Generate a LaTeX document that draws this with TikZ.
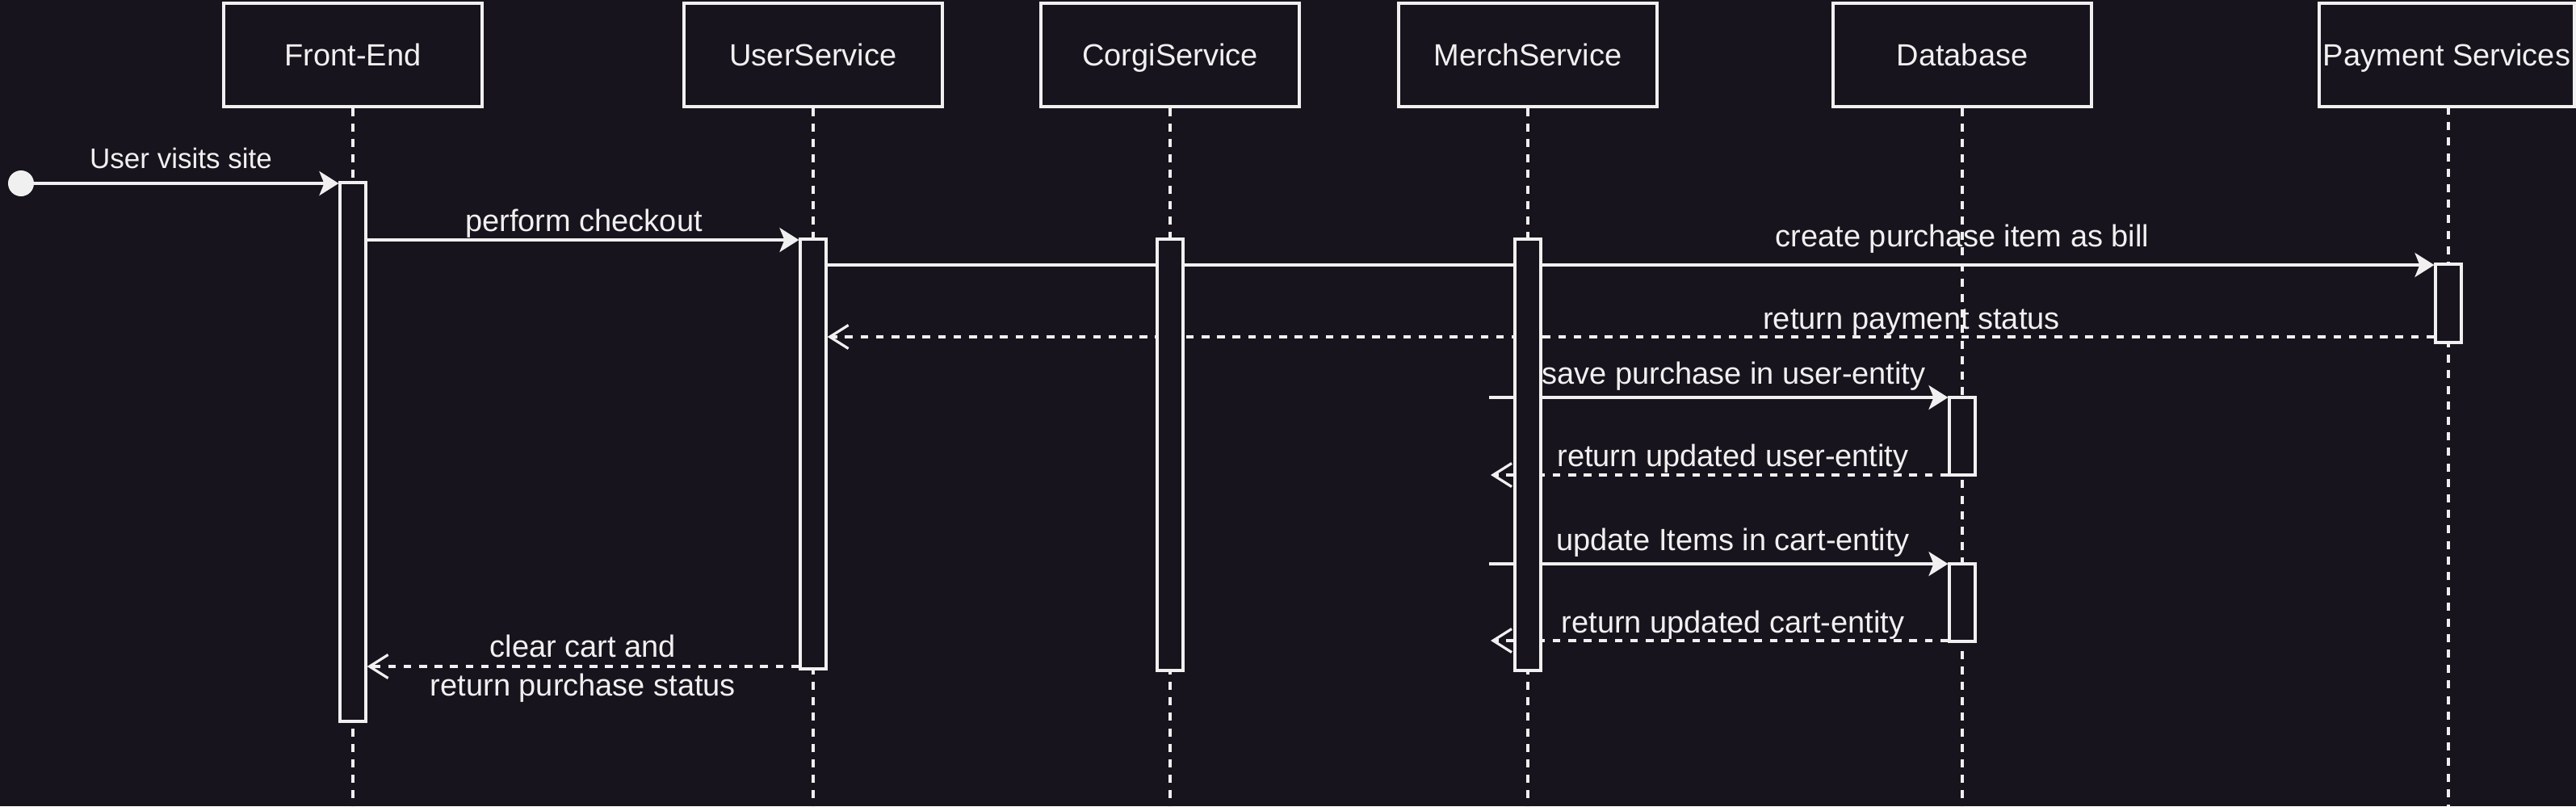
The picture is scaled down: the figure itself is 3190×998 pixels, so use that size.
\documentclass[tikz,border=0pt]{standalone}
\usepackage{fontspec}
\setmainfont{Liberation Sans}
\usetikzlibrary{arrows.meta}
\definecolor{bgc}{HTML}{18141D}
\definecolor{fgc}{HTML}{F0F0F0}
\pgfdeclarelayer{bgl}
\pgfdeclarelayer{back}
\pgfsetlayers{bgl,back,main}
\tikzset{
  every node/.style={font=\fontsize{19pt}{24pt}\selectfont, text=fgc},
  actor/.style={draw=fgc, line width=1.6pt, fill=bgc, minimum width=160pt, minimum height=64pt, inner sep=0pt, text height=13.6pt, text depth=0pt},
  lifeline/.style={draw=fgc, line width=1.6pt, dash pattern=on 5pt off 4.6pt},
  actbar/.style={draw=fgc, line width=1.6pt, fill=bgc, minimum width=16pt, inner sep=0pt},
  msg/.style={draw=fgc, line width=1.6pt, -{Stealth[length=12pt,width=15pt,inset=3pt]}},
  reply/.style={draw=fgc, line width=1.6pt, dash pattern=on 4.8pt off 4.8pt, -{Straight Barb[length=11.5pt,width=14.5pt]}},
  lbl/.style={inner sep=0pt, text height=13.6pt, text depth=0pt},
  startdot/.style={circle, fill=fgc, draw=none, minimum size=16pt, inner sep=0pt},
}
\begin{document}
\begin{tikzpicture}[x=0.5pt,y=-0.5pt]
\useasboundingbox (0,0) rectangle (3190,998);
\begin{pgfonlayer}{bgl}
\fill[bgc] (0,0) rectangle (3190,998);
\end{pgfonlayer}

% actors
\node[actor] (fe) at (437,68) {Front-End};
\node[actor] (us) at (1007,68) {UserService};
\node[actor] (cs) at (1449,68) {CorgiService};
\node[actor] (ms) at (1892,68) {MerchService};
\node[actor] (db) at (2430,68) {Database};
\node[actor, minimum width=158pt] (ps) at (3030,68) {Payment Services};

% lifeline ends
\coordinate (feEnd) at (437,998);
\coordinate (usEnd) at (1007,998);
\coordinate (csEnd) at (1449,998);
\coordinate (msEnd) at (1892,998);
\coordinate (dbEnd) at (2430,998);
\coordinate (psEnd) at (3032,998);
\coordinate (psTop) at (3032,132);

% activation bars
\node[actbar, minimum height=333.5pt] (febar) at (437,559.5) {};
\node[actbar, minimum height=266pt] (usbar) at (1007,562) {};
\node[actbar, minimum height=267pt] (csbar) at (1449,563) {};
\node[actbar, minimum height=267pt] (msbar) at (1892,563) {};
\node[actbar, minimum height=48.5pt] (psbar) at (3032,375.5) {};
\node[actbar, minimum height=48pt] (dbbarA) at (2430,540) {};
\node[actbar, minimum height=48pt] (dbbarB) at (2430,746) {};

\node[startdot] (start) at (26,227) {};
\coordinate (saveFrom) at (1844,492);
\coordinate (userRet) at (1846,588);
\coordinate (updFrom) at (1844,698);
\coordinate (cartRet) at (1846,793);

\begin{pgfonlayer}{back}
\draw[lifeline] (fe.south) -- (feEnd);
\draw[lifeline] (us.south) -- (usEnd);
\draw[lifeline] (cs.south) -- (csEnd);
\draw[lifeline] (ms.south) -- (msEnd);
\draw[lifeline] (db.south) -- (dbEnd);
\draw[lifeline] (psTop) -- (psEnd);

\draw[msg] (start) -- (febar.west |- start);
\draw[msg] (febar.east |- 0,297) -- (usbar.west |- 0,297);
\draw[msg] (usbar.east |- 0,328) -- (psbar.west |- 0,328);
\draw[reply] (psbar.west |- 0,417) -- (usbar.east |- 0,417);
\draw[msg] (saveFrom) -- (dbbarA.west |- saveFrom);
\draw[reply] (dbbarA.west |- userRet) -- (userRet);
\draw[msg] (updFrom) -- (dbbarB.west |- updFrom);
\draw[reply] (dbbarB.west |- cartRet) -- (cartRet);
\draw[reply] (usbar.west |- 0,825) -- (febar.east |- 0,825);
\end{pgfonlayer}

% labels
\node[lbl, font=\fontsize{17.5pt}{21pt}\selectfont, text height=12.5pt] (l1) at (224,196) {User visits site};
\node[lbl] (l2) at (723,273) {perform checkout};
\node[lbl] (l3) at (2430,292) {create purchase item as bill};
\node[lbl] (l4) at (2367,394) {return payment status};
\node[lbl] (l5) at (2147,462) {save purchase in user-entity};
\node[lbl] (l6) at (2146,564) {return updated user-entity};
\node[lbl] (l7) at (2146,668) {update Items in cart-entity};
\node[lbl] (l8) at (2146,770) {return updated cart-entity};
\node[inner sep=0pt, align=center] (l9) at (722,828) {clear cart and\\[0pt]return purchase status};
\end{tikzpicture}
\end{document}
